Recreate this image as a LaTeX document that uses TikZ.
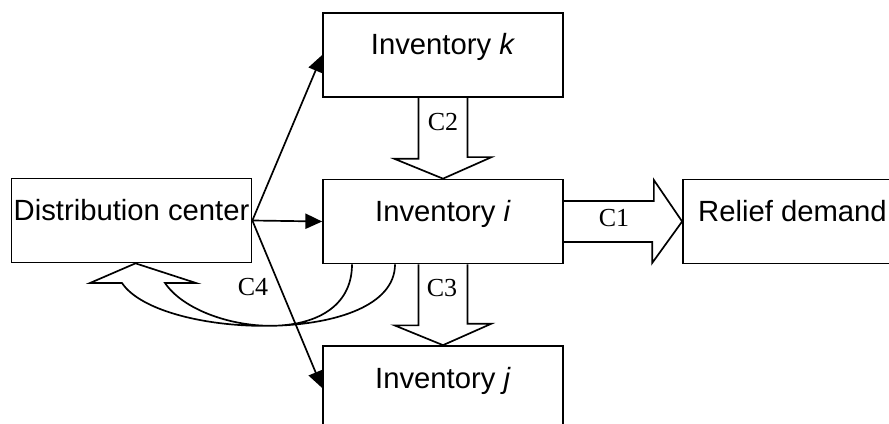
\documentclass[tikz,border=0pt]{standalone}
\usepackage{fontspec}
\setmainfont{Liberation Sans}
\newfontfamily\lblfont{Liberation Serif}
\usetikzlibrary{arrows.meta}

\begin{document}
\begin{tikzpicture}[
	line width=1.2pt,
	box/.style = {draw, minimum width=6cm, minimum height=2.1cm, inner sep=0pt,
		text height=15.6pt, text depth=15.6pt, font={\fontsize{20.8}{25}\selectfont}},
	flow/.style = {-{Triangle[length=0.42cm, width=0.38cm]}},
	tag/.style = {inner sep=0pt, font={\lblfont\fontsize{18.5}{22}\selectfont}}
]
	\useasboundingbox (0,0) rectangle (22.225,-10.6);
	\clip (0,0) rectangle (22.225,-10.6);

	\node[box] (dc) at (3.2875,-5.5125) {Distribution center};
	\node[box] (invk) at (11.075,-1.375) {Inventory \textit{k}};
	\node[box] (invi) at (11.075,-5.5375) {Inventory \textit{i}};
	\node[box] (invj) at (11.075,-9.7) {Inventory \textit{j}};
	\node[box, minimum width=5.475cm] (relief) at (19.8125,-5.5375) {Relief demand};

	\draw[flow] (dc.east) -- (invk.west);
	\draw[flow] (dc.east) -- (invi.west);
	\draw[flow] (dc.east) -- (invj.west);

	\draw ([yshift=0.5125cm]invi.east) -- ++(2.25,0) -- ++(0,0.525) -- (relief.west)
		-- ++(-0.75,-1.0375) -- ++(0,0.525) -- ([yshift=-0.5125cm]invi.east);
	\draw ([xshift=-0.6125cm]invk.south) -- ++(0,-1.525) -- ++(-0.6,0) -- (invi.north)
		-- ++(1.2125,0.5375) -- ++(-0.6,0) -- ([xshift=0.6125cm]invk.south);
	\draw ([xshift=-0.6125cm]invi.south) -- ++(0,-1.525) -- ++(-0.6,0) -- (invj.north)
		-- ++(1.2125,0.5375) -- ++(-0.6,0) -- ([xshift=0.6125cm]invi.south);
	\draw ([xshift=-1.2cm]invi.south) .. controls +(0,-2.05) and +(0.95,-1.425) .. (3.05,-7.075)
		-- ++(-0.8,0) -- ([xshift=0.1cm]dc.south) -- (4.9,-7.075) -- ++(-0.775,0)
		.. controls +(0.875,-1.3) and +(0,-2.175) .. ([xshift=-2.275cm]invi.south);

	\node[tag] (c1) at (15.35,-5.45) {C1};
	\node[tag] (c2) at ([yshift=-0.6cm]invk.south) {C2};
	\node[tag] (c3) at ([xshift=-0.025cm,yshift=-0.6cm]invi.south) {C3};
	\node[tag] (c4) at (6.325,-7.175) {C4};
\end{tikzpicture}
\end{document}
